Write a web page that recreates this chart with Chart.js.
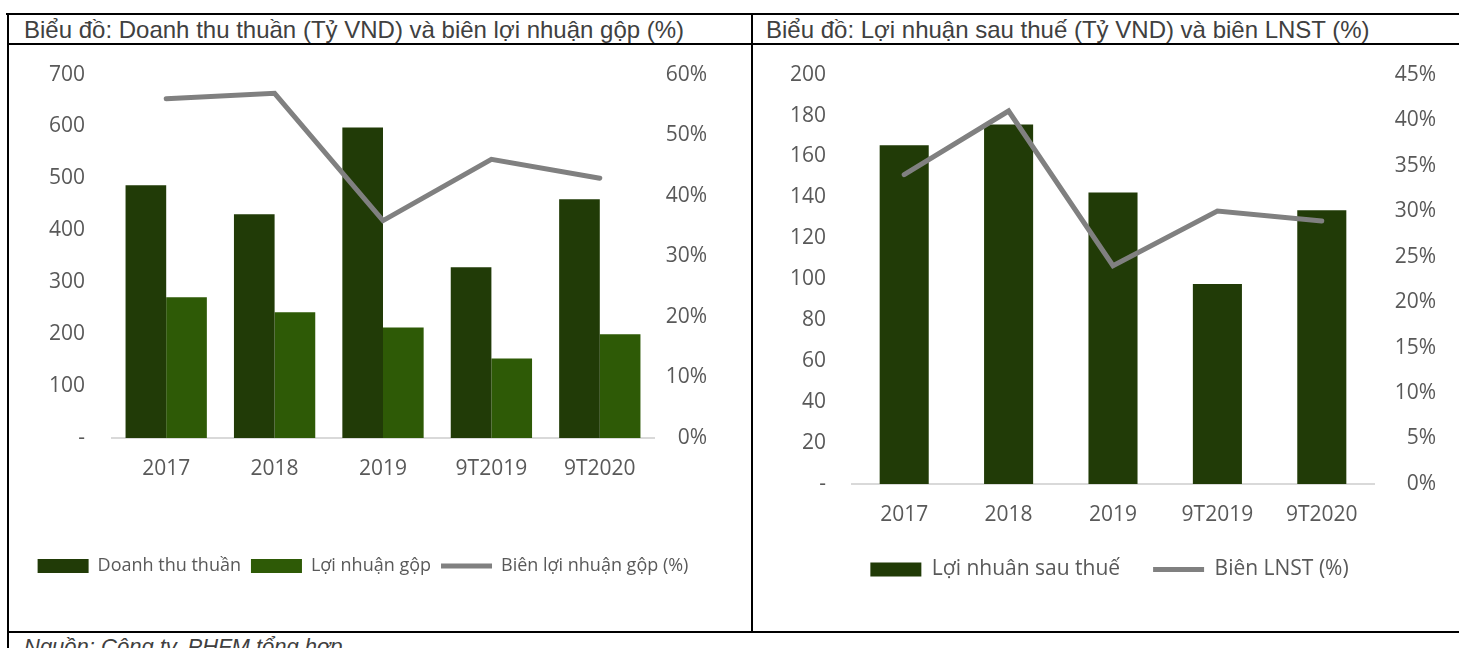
<html><head>
<meta charset="UTF-8">
<title>Doanh thu - Lợi nhuận</title>
<style>
  body {
    margin: 0;
    width: 1459px;
    height: 648px;
    overflow: hidden;
    background: #fff;
    position: relative;
    font-family: 'Liberation Sans', Arial, sans-serif;
  }
  .hline, .vline {
    position: absolute;
    background: #000;
  }
  .title {
    position: absolute;
    top: 16px;
    font-size: 24px;
    color: #404040;
    white-space: nowrap;
  }
  .box {
    position: absolute;
  }
  .source {
    position: absolute;
    left: 24px;
    top: 634px;
    font-size: 22px;
    font-style: italic;
    color: #404040;
  }
</style>
<script src="https://cdn.jsdelivr.net/npm/chart.js"></script>
</head>
<body>
  <div class="hline" style="left:6px;top:13px;width:1453px;height:2px"></div>
  <div class="hline" style="left:7px;top:43px;width:1452px;height:2px"></div>
  <div class="hline" style="left:7px;top:631px;width:1452px;height:2px"></div>
  <div class="vline" style="left:7px;top:13px;width:2px;height:635px"></div>
  <div class="vline" style="left:751px;top:13px;width:2px;height:620px"></div>

  <div class="title" style="left:24px">Biểu đồ: Doanh thu thuần (Tỷ VND) và biên lợi nhuận gộp (%)</div>
  <div class="title" style="left:766px">Biểu đồ: Lợi nhuận sau thuế (Tỷ VND) và biên LNST (%)</div>

  <div class="box" style="left:9px;top:35px;width:742px;height:595px"><canvas id="chartLeft"></canvas></div>
  <div class="box" style="left:753px;top:36px;width:706px;height:594px"><canvas id="chartRight"></canvas></div>

  <div class="source">Nguồn: Công ty, PHFM tổng hợp</div>

  <script>
    // --- data ---
    const categories = ['2017', '2018', '2019', '9T2019', '9T2020'];

    const doanhThuThuan = [487, 431, 598, 329, 460];
    const loiNhuanGop = [271, 242, 213, 153, 200];
    const bienLNGop = [56.0, 56.9, 35.9, 46.0, 42.9];

    const loiNhuanSauThue = [165.5, 175.6, 142.4, 97.7, 133.7];
    const bienLNST = [34.0, 41.0, 24.0, 30.0, 28.9];

    const darkGreen = '#213B07';
    const green = '#2E5A06';
    const grey = '#808080';
    const tickColor = '#595959';

    Chart.defaults.font.family = "'Open Sans', sans-serif";
    Chart.defaults.color = tickColor;
    Chart.defaults.animation = false;

    function makeChart(id, cfg) {
      const ctx = document.getElementById(id).getContext('2d');
      return new Chart(ctx, {
        type: 'bar',
        data: { labels: categories, datasets: cfg.datasets },
        options: {
          responsive: true,
          maintainAspectRatio: false,
          layout: { padding: { top: 0, left: cfg.leftPad, bottom: cfg.bottomPad, right: cfg.rightPad } },
          plugins: {
            tooltip: { enabled: false },
            legend: {
              position: 'bottom',
              labels: {
                font: { size: cfg.legendFont },
                color: tickColor,
                usePointStyle: true,
                pointStyleWidth: 51,
                boxHeight: 14,
                padding: cfg.legendGap,
                // keep the legend in dataset order, not draw order
                sort: (a, b) => a.datasetIndex - b.datasetIndex
              }
            }
          },
          scales: {
            x: {
              grid: { display: false, drawTicks: false },
              border: { color: '#d9d9d9', width: 2 },
              ticks: { font: { size: 21 }, padding: 18 },
              afterFit: s => { s.height = cfg.xHeight; }
            },
            y: {
              position: 'left',
              min: 0, max: cfg.yMax,
              grid: { display: false, drawTicks: false },
              border: { display: false },
              ticks: {
                stepSize: cfg.yStep,
                font: { size: 21 },
                padding: cfg.yPad,
                callback: v => v === 0 ? '-' : v
              },
              afterFit: s => { s.width = cfg.yWidth; }
            },
            y2: {
              position: 'right',
              min: 0, max: cfg.y2Max,
              grid: { display: false, drawTicks: false },
              border: { display: false },
              ticks: {
                stepSize: cfg.y2Step,
                font: { size: 21 },
                padding: 0,
                crossAlign: 'far',
                callback: v => v + '%'
              },
              afterFit: s => { s.width = cfg.y2Width; }
            }
          }
        }
      });
    }

    makeChart('chartLeft', {
      yMax: 700, yStep: 100, yPad: 27, yWidth: 93, leftPad: 10,
      y2Max: 60, y2Step: 10, y2Width: 53, rightPad: 44,
      xHeight: 109, bottomPad: 45, legendGap: 10, legendFont: 18,
      datasets: [
        {
          label: 'Doanh thu thuần', data: doanhThuThuan, yAxisID: 'y',
          backgroundColor: darkGreen, pointStyle: 'rect',
          barPercentage: 1, categoryPercentage: 0.75, order: 1
        },
        {
          label: 'Lợi nhuận gộp', data: loiNhuanGop, yAxisID: 'y',
          backgroundColor: green, pointStyle: 'rect',
          barPercentage: 1, categoryPercentage: 0.75, order: 2
        },
        {
          type: 'line', label: 'Biên lợi nhuận gộp (%)', data: bienLNGop, yAxisID: 'y2',
          borderColor: grey, backgroundColor: grey, borderWidth: 5,
          borderCapStyle: 'round', pointRadius: 0, pointStyle: 'line', order: 0
        }
      ]
    });

    makeChart('chartRight', {
      yMax: 200, yStep: 20, yPad: 26, yWidth: 69, leftPad: 30,
      y2Max: 45, y2Step: 5, y2Width: 62, rightPad: 23,
      xHeight: 42, bottomPad: 40, legendGap: 33, legendFont: 21,
      datasets: [
        {
          label: 'Lợi nhuân sau thuế', data: loiNhuanSauThue, yAxisID: 'y',
          backgroundColor: darkGreen, pointStyle: 'rect',
          barPercentage: 0.47, categoryPercentage: 1, order: 1
        },
        {
          type: 'line', label: 'Biên LNST (%)', data: bienLNST, yAxisID: 'y2',
          borderColor: grey, backgroundColor: grey, borderWidth: 5,
          borderCapStyle: 'round', pointRadius: 0, pointStyle: 'line', order: 0
        }
      ]
    });
  </script>
</body></html>
